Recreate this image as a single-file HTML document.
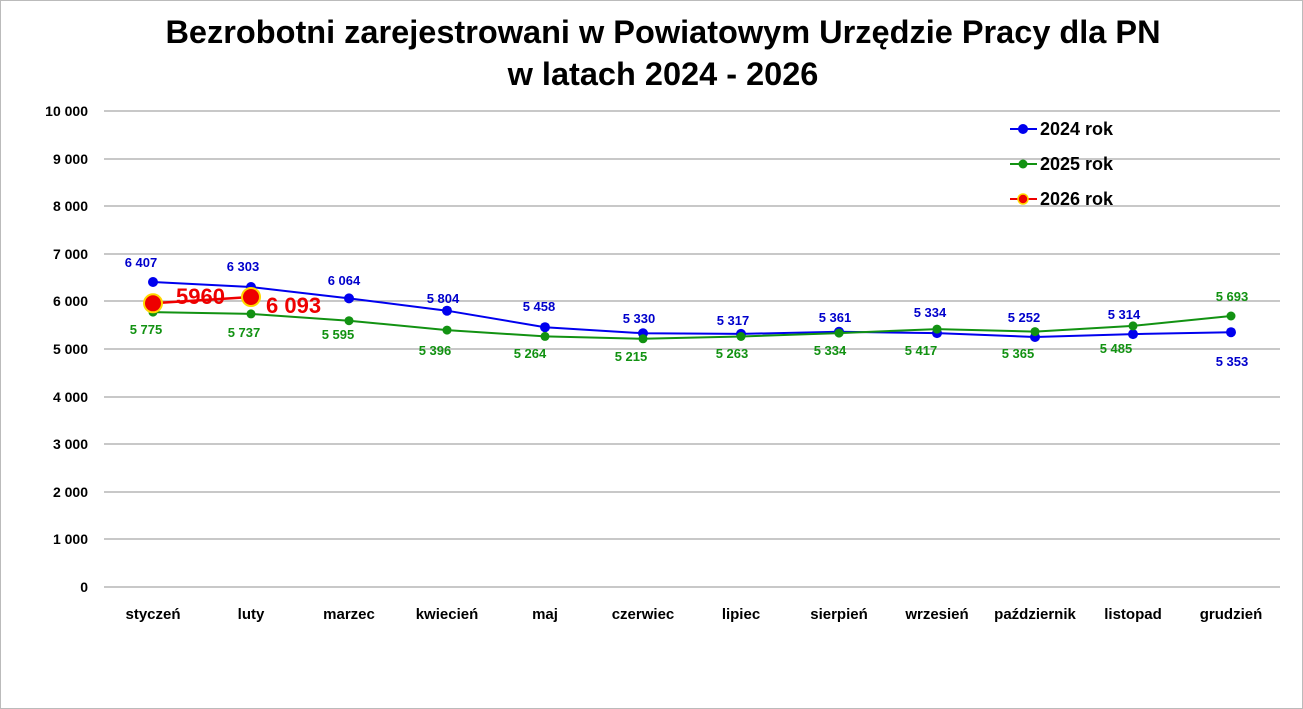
<!DOCTYPE html>
<html><head><meta charset="utf-8"><style>
body{margin:0;background:#fff}
svg{display:block;font-family:"Liberation Sans",sans-serif;font-weight:bold}
</style></head><body>
<svg width="1303" height="709" viewBox="0 0 1303 709">
<rect x="0.5" y="0.5" width="1302" height="708" fill="#fff" stroke="#bbb"/>
<text x="663" y="43" font-size="32.5" text-anchor="middle" fill="#000">Bezrobotni zarejestrowani w Powiatowym Urzędzie Pracy dla PN</text>
<text x="663" y="85" font-size="32.5" text-anchor="middle" fill="#000">w latach 2024 - 2026</text>
<g stroke="#a6a6a6" stroke-width="1.3">
<line x1="104" x2="1280" y1="111" y2="111"/><line x1="104" x2="1280" y1="159" y2="159"/>
<line x1="104" x2="1280" y1="206" y2="206"/><line x1="104" x2="1280" y1="254" y2="254"/>
<line x1="104" x2="1280" y1="301" y2="301"/><line x1="104" x2="1280" y1="349" y2="349"/>
<line x1="104" x2="1280" y1="397" y2="397"/><line x1="104" x2="1280" y1="444" y2="444"/>
<line x1="104" x2="1280" y1="492" y2="492"/><line x1="104" x2="1280" y1="539" y2="539"/>
<line x1="104" x2="1280" y1="587" y2="587"/>
</g>
<g font-size="14" text-anchor="end" fill="#000">
<text x="88" y="116">10 000</text><text x="88" y="164">9 000</text><text x="88" y="211">8 000</text>
<text x="88" y="259">7 000</text><text x="88" y="306">6 000</text><text x="88" y="354">5 000</text>
<text x="88" y="402">4 000</text><text x="88" y="449">3 000</text><text x="88" y="497">2 000</text>
<text x="88" y="544">1 000</text><text x="88" y="592">0</text>
</g>
<g font-size="15" text-anchor="middle" fill="#000">
<text x="153" y="619">styczeń</text><text x="251" y="619">luty</text><text x="349" y="619">marzec</text>
<text x="447" y="619">kwiecień</text><text x="545" y="619">maj</text><text x="643" y="619">czerwiec</text>
<text x="741" y="619">lipiec</text><text x="839" y="619">sierpień</text><text x="937" y="619">wrzesień</text>
<text x="1035" y="619">październik</text><text x="1133" y="619">listopad</text><text x="1231" y="619">grudzień</text>
</g>
<polyline fill="none" stroke="#0000ee" stroke-width="2" points="153,282 251,287 349,298.4 447,310.7 545,327.2 643,333.3 741,333.9 839,331.8 937,333.1 1035,337 1133,334.1 1231,332.2"/>
<g fill="#0000ee">
<circle cx="153" cy="282" r="5"/><circle cx="251" cy="287" r="5"/><circle cx="349" cy="298.4" r="5"/><circle cx="447" cy="310.7" r="5"/><circle cx="545" cy="327.2" r="5"/><circle cx="643" cy="333.3" r="5"/><circle cx="741" cy="333.9" r="5"/><circle cx="839" cy="331.8" r="5"/><circle cx="937" cy="333.1" r="5"/><circle cx="1035" cy="337" r="5"/><circle cx="1133" cy="334.1" r="5"/><circle cx="1231" cy="332.2" r="5"/>
</g>
<polyline fill="none" stroke="#129212" stroke-width="2" points="153,312.1 251,313.9 349,320.7 447,330.1 545,336.4 643,338.8 741,336.5 839,333.1 937,329.1 1035,331.6 1133,325.9 1231,316"/>
<g fill="#129212">
<circle cx="153" cy="312.1" r="4.5"/><circle cx="251" cy="313.9" r="4.5"/><circle cx="349" cy="320.7" r="4.5"/><circle cx="447" cy="330.1" r="4.5"/><circle cx="545" cy="336.4" r="4.5"/><circle cx="643" cy="338.8" r="4.5"/><circle cx="741" cy="336.5" r="4.5"/><circle cx="839" cy="333.1" r="4.5"/><circle cx="937" cy="329.1" r="4.5"/><circle cx="1035" cy="331.6" r="4.5"/><circle cx="1133" cy="325.9" r="4.5"/><circle cx="1231" cy="316" r="4.5"/>
</g>
<g font-size="13" text-anchor="middle" fill="#0000cc">
<text x="141" y="267">6 407</text><text x="243" y="271">6 303</text><text x="344" y="285">6 064</text>
<text x="443" y="303">5 804</text><text x="539" y="311">5 458</text><text x="639" y="323">5 330</text>
<text x="733" y="325">5 317</text><text x="835" y="322">5 361</text><text x="930" y="317">5 334</text>
<text x="1024" y="322">5 252</text><text x="1124" y="319">5 314</text><text x="1232" y="366">5 353</text>
</g>
<g font-size="13" text-anchor="middle" fill="#129212">
<text x="146" y="334">5 775</text><text x="244" y="337">5 737</text><text x="338" y="339">5 595</text>
<text x="435" y="355">5 396</text><text x="530" y="358">5 264</text><text x="631" y="361">5 215</text>
<text x="732" y="358">5 263</text><text x="830" y="355">5 334</text><text x="921" y="355">5 417</text>
<text x="1018" y="358">5 365</text><text x="1116" y="353">5 485</text><text x="1232" y="301">5 693</text>
</g>
<line x1="153" y1="303.3" x2="251" y2="297" stroke="#ee0000" stroke-width="2.5"/>
<circle cx="153" cy="303.3" r="9" fill="#ee0000" stroke="#ffd800" stroke-width="2"/>
<circle cx="251" cy="297" r="9" fill="#ee0000" stroke="#ffd800" stroke-width="2"/>
<text x="176" y="304" font-size="22" fill="#ee0000">5960</text>
<text x="266" y="313" font-size="22" fill="#ee0000">6 093</text>
<g font-size="18" fill="#000">
<line x1="1010" x2="1037" y1="129" y2="129" stroke="#0000ee" stroke-width="2"/><circle cx="1023" cy="129" r="5" fill="#0000ee"/>
<text x="1040" y="135">2024 rok</text>
<line x1="1010" x2="1037" y1="164" y2="164" stroke="#129212" stroke-width="2"/><circle cx="1023" cy="164" r="4.5" fill="#129212"/>
<text x="1040" y="170">2025 rok</text>
<line x1="1010" x2="1037" y1="199" y2="199" stroke="#ee0000" stroke-width="2"/><circle cx="1023" cy="199" r="5" fill="#ee0000" stroke="#ffd800" stroke-width="1.5"/>
<text x="1040" y="205">2026 rok</text>
</g>
</svg>
</body></html>
